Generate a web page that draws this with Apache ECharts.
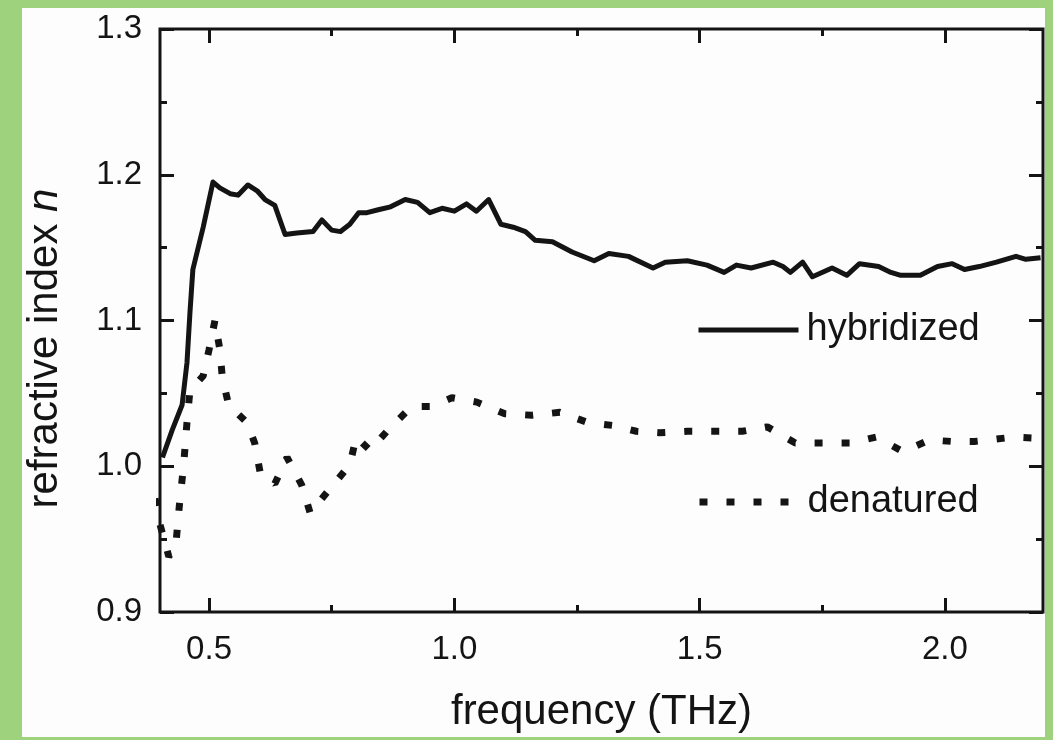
<!DOCTYPE html>
<html>
<head>
<meta charset="utf-8">
<script src="https://cdn.jsdelivr.net/npm/echarts@6/dist/echarts.min.js"></script>
<style>
  html, body { margin: 0; padding: 0; background: #9ed27c; }
  #wrap { position: relative; width: 1053px; height: 740px; background: #9ed27c; overflow: hidden; }
  #paper { position: absolute; left: 22px; top: 8px; width: 1023px; height: 729px; background: #fdfdfd; }
  #chart { position: absolute; left: 0; top: 0; width: 1053px; height: 740px; }
</style>
</head>
<body>
<div id="wrap"><div id="paper"></div><div id="chart"></div></div>
<script>
// ---- data (frequency in THz, refractive index n) ----
const hybridizedX = [0.405,0.425,0.445,0.455,0.461,0.467,0.488,0.508,0.522,0.543,0.559,0.579,0.598,0.614,0.634,0.655,0.679,0.712,0.730,0.750,0.768,0.787,0.805,0.822,0.845,0.870,0.900,0.925,0.950,0.975,1.000,1.025,1.045,1.070,1.095,1.120,1.145,1.165,1.200,1.240,1.285,1.315,1.355,1.405,1.430,1.475,1.515,1.550,1.575,1.605,1.650,1.670,1.685,1.710,1.730,1.770,1.800,1.826,1.865,1.890,1.910,1.950,1.985,2.015,2.040,2.070,2.105,2.145,2.165,2.195];
const hybridizedN = [1.006,1.025,1.042,1.071,1.105,1.135,1.164,1.195,1.191,1.187,1.186,1.193,1.189,1.183,1.179,1.159,1.160,1.161,1.169,1.162,1.161,1.166,1.174,1.174,1.176,1.178,1.183,1.181,1.174,1.177,1.175,1.180,1.175,1.183,1.166,1.164,1.161,1.155,1.154,1.147,1.141,1.146,1.144,1.136,1.140,1.141,1.138,1.133,1.138,1.136,1.140,1.137,1.133,1.140,1.130,1.136,1.131,1.139,1.137,1.133,1.131,1.131,1.137,1.139,1.135,1.137,1.140,1.144,1.142,1.143];
const denaturedX = [0.390,0.400,0.418,0.432,0.440,0.448,0.455,0.461,0.488,0.500,0.512,0.522,0.527,0.540,0.577,0.593,0.604,0.634,0.659,0.689,0.706,0.750,0.787,0.800,0.828,0.868,0.913,0.954,0.995,1.046,1.103,1.158,1.215,1.272,1.323,1.371,1.418,1.475,1.532,1.587,1.638,1.695,1.752,1.807,1.860,1.915,1.968,2.015,2.060,2.090,2.139,2.200];
const denaturedN = [0.978,0.960,0.938,0.945,0.975,1.000,1.030,1.052,1.062,1.080,1.100,1.080,1.061,1.042,1.030,1.016,0.996,0.988,1.006,0.987,0.968,0.986,1.001,1.020,1.011,1.026,1.041,1.041,1.047,1.044,1.036,1.035,1.037,1.030,1.028,1.024,1.023,1.024,1.024,1.024,1.027,1.016,1.016,1.016,1.020,1.010,1.018,1.017,1.017,1.018,1.020,1.019];
const seriesNames = ['hybridized', 'denatured'];
const xMajorTicks = [0.5, 1.0, 1.5, 2.0];
const xMinorTicks = [0.75, 1.25, 1.75];
const yMajorTicks = [0.9, 1.0, 1.1, 1.2, 1.3];
const yMinorTicks = [0.95, 1.05, 1.15, 1.25];
const xTitle = 'frequency (THz)';
const yTitle = 'refractive index {i|n}';

const FONT = "'Liberation Sans', Arial, Helvetica, sans-serif";
const INK = '#141414';
const X_MIN = 0.4, X_MAX = 2.2, Y_MIN = 0.9, Y_MAX = 1.3;
const DOTS = [8, 19];

function zip(xs, ys) { return xs.map((x, i) => [x, ys[i]]); }

function xAx(pos, ticks, len, showLabel, extra) {
  return Object.assign({
    type: 'value', min: X_MIN, max: X_MAX, position: pos, gridIndex: 0,
    axisLine: { show: false },
    axisTick: { show: true, inside: true, length: len, customValues: ticks, lineStyle: { color: INK, width: 3 } },
    axisLabel: { show: showLabel, customValues: ticks, margin: 21, fontSize: 33, fontFamily: FONT, color: INK,
                 formatter: v => Number(v).toFixed(1) },
    splitLine: { show: false }
  }, extra || {});
}
function yAx(pos, ticks, len, showLabel, extra) {
  return Object.assign({
    type: 'value', min: Y_MIN, max: Y_MAX, position: pos, gridIndex: 0,
    axisLine: { show: false },
    axisTick: { show: true, inside: true, length: len, customValues: ticks, lineStyle: { color: INK, width: 3 } },
    axisLabel: { show: showLabel, customValues: ticks, margin: 18, fontSize: 33, fontFamily: FONT, color: INK,
                 formatter: v => Number(v).toFixed(1) },
    splitLine: { show: false }
  }, extra || {});
}
function legendFor(name, top, lineStyle) {
  return {
    show: true, orient: 'horizontal', left: 696, top: top,
    itemWidth: 100, itemHeight: 36, itemGap: 10, padding: 0,
    selectedMode: false,
    textStyle: { fontSize: 38, fontFamily: FONT, color: INK, padding: [0, 0, 0, 3] },
    itemStyle: { color: 'transparent', borderWidth: 0, opacity: 0 },
    lineStyle: lineStyle,
    data: [name]
  };
}

const chart = echarts.init(document.getElementById('chart'), null, { renderer: 'canvas' });
chart.setOption({
  backgroundColor: 'transparent',
  animation: false,
  grid: { left: 160, right: 10, top: 29, bottom: 128, show: true, borderColor: INK, borderWidth: 3, backgroundColor: 'transparent' },
  xAxis: [
    xAx('bottom', xMajorTicks, 14, true, {
      name: xTitle, nameLocation: 'middle', nameGap: 79,
      nameTextStyle: { fontSize: 42, fontFamily: FONT, color: INK }
    }),
    xAx('bottom', xMinorTicks, 7, false),
    xAx('top', xMajorTicks, 14, false),
    xAx('top', xMinorTicks, 7, false)
  ],
  yAxis: [
    yAx('left', yMajorTicks, 14, true, {
      name: yTitle, nameLocation: 'middle', nameGap: 94, nameRotate: 90,
      nameTextStyle: { fontSize: 42, fontFamily: FONT, color: INK, padding: [0, 56, 0, 0],
                       rich: { i: { fontSize: 42, fontFamily: FONT, fontStyle: 'italic', color: INK } } }
    }),
    yAx('left', yMinorTicks, 7, false),
    yAx('right', yMajorTicks, 14, false),
    yAx('right', yMinorTicks, 7, false)
  ],
  legend: [
    legendFor(seriesNames[0], 311, { color: INK, width: 5 }),
    legendFor(seriesNames[1], 483, { color: INK, width: 7, type: DOTS })
  ],
  series: [
    {
      name: seriesNames[0], type: 'line', xAxisIndex: 0, yAxisIndex: 0,
      data: zip(hybridizedX, hybridizedN), showSymbol: false, symbol: 'none',
      lineStyle: { color: INK, width: 5, join: 'round' }, itemStyle: { color: INK }
    },
    {
      name: seriesNames[1], type: 'line', xAxisIndex: 0, yAxisIndex: 0, clip: false,
      data: zip(denaturedX, denaturedN), showSymbol: false, symbol: 'none',
      lineStyle: { color: INK, width: 7, type: DOTS, cap: 'butt' }, itemStyle: { color: INK }
    }
  ]
});
</script>
</body>
</html>
